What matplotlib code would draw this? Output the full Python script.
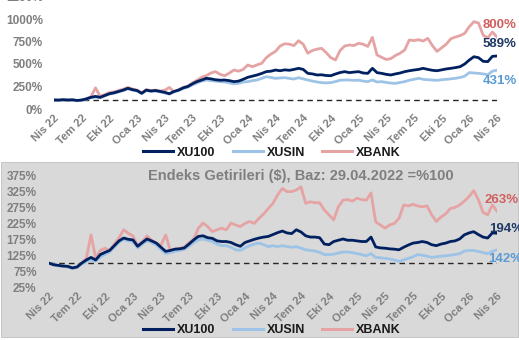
import matplotlib
matplotlib.use("Agg")
import matplotlib.pyplot as plt
import matplotlib.patches as mpatches
from matplotlib.lines import Line2D
import pandas as pd
import numpy as np

plt.rcParams['font.family'] = ['Liberation Sans', 'DejaVu Sans']

# semi-monthly observations from 29.04.2022 to 29.04.2026
dates = pd.date_range("2022-04-29", "2026-04-29", periods=97)

tick_labels = ["Nis 22", "Tem 22", "Eki 22", "Oca 23", "Nis 23", "Tem 23", "Eki 23", "Oca 24",
               "Nis 24", "Tem 24", "Eki 24", "Oca 25", "Nis 25", "Tem 25", "Eki 25", "Oca 26", "Nis 26"]
tick_dates = pd.date_range("2022-04-29", periods=17, freq=pd.DateOffset(months=3))

series_names = ["XU100", "XUSIN", "XBANK"]

# TL based returns (%), base 29.04.2022 = 100
tl_xu100 = [100, 99, 103, 100, 102, 95, 100, 112, 130, 140, 130, 150, 170, 180, 195, 210, 230, 215, 205, 175,
            210, 200, 205, 195, 185, 170, 195, 210, 235, 250, 280, 305, 322, 341, 335, 325, 320, 322, 315, 304,
            310, 330, 352, 365, 378, 395, 415, 420, 433, 425, 435, 430, 440, 452, 440, 396, 390, 378, 380, 372,
            370, 389, 405, 415, 404, 410, 415, 400, 396, 452, 404, 396, 385, 378, 390, 400, 415, 425, 433, 440,
            452, 440, 430, 425, 435, 445, 452, 460, 470, 500, 544, 581, 570, 530, 526, 585, 589]
tl_xusin = [100, 98, 101, 98, 100, 93, 97, 108, 125, 132, 125, 145, 165, 175, 190, 205, 225, 210, 200, 170,
            205, 195, 200, 190, 178, 165, 190, 205, 228, 242, 268, 290, 310, 322, 315, 310, 304, 300, 290, 280,
            285, 300, 304, 315, 322, 340, 359, 350, 341, 345, 348, 340, 333, 348, 335, 322, 310, 300, 293, 290,
            293, 305, 320, 322, 322, 318, 320, 310, 304, 322, 300, 304, 295, 288, 285, 295, 304, 320, 330, 341,
            330, 325, 322, 318, 325, 330, 335, 341, 350, 365, 404, 400, 396, 390, 380, 420, 431]
tl_xbank = [100, 98, 102, 97, 100, 92, 98, 115, 135, 235, 140, 160, 182, 190, 205, 220, 240, 222, 210, 178,
            215, 205, 210, 200, 208, 240, 190, 215, 240, 255, 290, 320, 352, 370, 400, 415, 385, 370, 400, 433,
            420, 440, 489, 470, 490, 507, 570, 610, 640, 700, 725, 720, 705, 759, 720, 620, 650, 665, 674, 625,
            570, 545, 650, 700, 711, 705, 730, 720, 695, 796, 600, 575, 550, 560, 595, 620, 656, 767, 760, 770,
            755, 785, 705, 640, 680, 720, 780, 800, 815, 841, 915, 970, 955, 820, 790, 855, 800]

# USD based returns (%), base 29.04.2022 = 100
usd_xu100 = [100, 95, 93, 91, 90, 85, 88, 100, 110, 118, 110, 127, 134, 140, 155, 170, 179, 175, 173, 153,
             165, 176, 170, 163, 150, 137, 140, 144, 145, 148, 160, 173, 184, 186, 180, 178, 170, 168, 168, 165,
             158, 153, 165, 170, 175, 179, 182, 184, 190, 196, 201, 195, 193, 205, 198, 186, 182, 182, 180, 160,
             158, 168, 172, 176, 172, 172, 170, 168, 168, 182, 151, 148, 147, 145, 144, 142, 150, 157, 163, 165,
             168, 165, 158, 155, 160, 163, 168, 170, 176, 189, 195, 199, 190, 182, 179, 195, 194]
usd_xusin = [100, 95, 92, 90, 88, 84, 86, 97, 105, 110, 106, 120, 128, 135, 150, 165, 175, 170, 168, 148,
             160, 170, 165, 157, 143, 130, 133, 137, 140, 143, 153, 165, 173, 176, 172, 168, 160, 155, 155, 150,
             142, 140, 148, 155, 160, 163, 158, 152, 155, 152, 155, 152, 150, 152, 147, 142, 140, 138, 134, 127,
             127, 128, 132, 135, 135, 133, 130, 127, 123, 130, 118, 117, 115, 113, 110, 106, 110, 115, 120, 127,
             125, 122, 118, 120, 122, 123, 125, 127, 130, 138, 140, 140, 137, 133, 130, 137, 142]
usd_xbank = [100, 95, 92, 90, 88, 84, 86, 100, 115, 189, 116, 140, 147, 140, 160, 180, 205, 194, 185, 155,
             168, 186, 172, 163, 157, 189, 140, 144, 147, 150, 165, 175, 210, 226, 215, 199, 205, 210, 205, 226,
             220, 215, 225, 231, 225, 241, 255, 272, 288, 315, 335, 325, 325, 330, 340, 288, 293, 290, 290, 267,
             252, 236, 277, 298, 300, 295, 304, 300, 298, 321, 230, 220, 210, 220, 225, 241, 283, 280, 285, 280,
             277, 280, 252, 231, 245, 255, 272, 275, 283, 295, 309, 328, 300, 260, 252, 283, 263]

title_bottom = "Endeks Getirileri ($), Baz: 29.04.2022 =%100"

line_colors = ["#002060", "#9DC3E6", "#E6A3A3"]
label_colors = ["#1F3864", "#5B9BD5", "#D0605E"]
gray = "#7F7F7F"

W, H = 519, 340
fig = plt.figure(figsize=(W / 100, H / 100), dpi=100)

def fx(px):
    return px / W

def fy(py):
    return 1 - py / H

# gray panel for the bottom chart
fig.patches.append(mpatches.Rectangle((fx(1), fy(337)), fx(517), fy(162) - fy(337),
                                      transform=fig.transFigure, facecolor="#D9D9D9",
                                      edgecolor="#BFBFBF", linewidth=0.6, zorder=-10))

ax1 = fig.add_axes([fx(54), fy(109), fx(497) - fx(54), fy(-3.5) - fy(109)])
ax2 = fig.add_axes([fx(49), fy(287), fx(497) - fx(49), fy(175.7) - fy(287)])
ax1.set_facecolor("none")
ax2.set_facecolor("none")

def style(ax, ylim, yticks, ypad):
    ax.set_xlim(dates[0], dates[-1])
    ax.set_ylim(*ylim)
    ax.set_yticks(yticks)
    ax.set_yticklabels([f"{t}%" for t in yticks])
    ax.set_xticks(tick_dates)
    ax.set_xticklabels(tick_labels, rotation=45, ha="right", rotation_mode="anchor")
    for s in ax.spines.values():
        s.set_visible(False)
    ax.tick_params(axis="both", length=0, colors=gray)
    ax.tick_params(axis="y", pad=ypad)
    ax.tick_params(axis="x", pad=3)
    for lab in ax.get_yticklabels():
        lab.set_fontsize(8.5)
        lab.set_fontweight("bold")
    for lab in ax.get_xticklabels():
        lab.set_fontsize(8)
        lab.set_fontweight("bold")
    ax.axhline(100, color="#262626", lw=1.0, ls=(0, (4, 3)), zorder=1)

style(ax1, (0, 1250), list(range(0, 1251, 250)), 8)
style(ax2, (25, 375), list(range(25, 376, 50)), 9)

top_vals = [tl_xu100, tl_xusin, tl_xbank]
bot_vals = [usd_xu100, usd_xusin, usd_xbank]
zord = [4, 3, 2]
for ax, vals in ((ax1, top_vals), (ax2, bot_vals)):
    for v, c, z in zip(vals, line_colors, zord):
        ax.plot(dates, v, color=c, lw=2.0, zorder=z, solid_joinstyle="round")

# end labels (offsets in pixels)
top_off = [(-14, 12), (-14, -11), (-14, 12)]
bot_off = [(-8, 4), (-9, -9), (-12, 11)]
for ax, vals, offs in ((ax1, top_vals, top_off), (ax2, bot_vals, bot_off)):
    for i, v in enumerate(vals):
        ax.annotate(f"{v[-1]:.0f}%", xy=(dates[-1], v[-1]), xytext=offs[i],
                    textcoords="offset pixels", ha="left", va="center",
                    color=label_colors[i], fontsize=9.5, fontweight="bold",
                    annotation_clip=False, zorder=6)

fig.text(fx(301), fy(175.5), title_bottom, ha="center", va="center", color=gray,
         fontsize=10.5, fontweight="bold")

handles = [Line2D([], [], color=c, lw=2.2) for c in line_colors]
for cy in (fy(152.5), fy(330)):
    leg = fig.legend(handles, series_names, loc="center", bbox_to_anchor=(fx(272), cy),
                     ncol=3, frameon=False, handlelength=2.4, handletextpad=0.3,
                     columnspacing=1.4, prop={"weight": "bold", "size": 9})
    for t in leg.get_texts():
        t.set_color("#1A1A1A")

fig.savefig("out.png", dpi=100)
